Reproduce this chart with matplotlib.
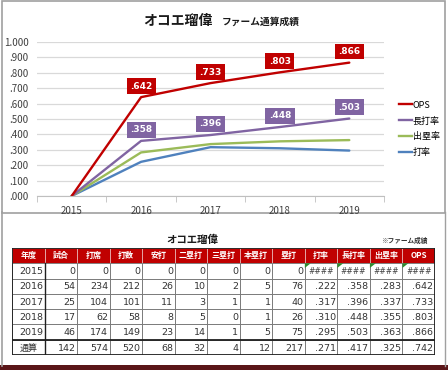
import matplotlib
matplotlib.use("Agg")
import matplotlib.pyplot as plt
from matplotlib.patches import Rectangle, Polygon
from matplotlib.lines import Line2D

plt.rcParams['font.family'] = ['Noto Sans CJK JP', 'DejaVu Sans']

# ---- data ----
years = ['2015', '2016', '2017', '2018', '2019']
ops = [0.0, 0.642, 0.733, 0.803, 0.866]
slg = [0.0, 0.358, 0.396, 0.448, 0.503]
obp = [0.0, 0.283, 0.337, 0.355, 0.363]
avg = [0.0, 0.222, 0.317, 0.310, 0.295]
yticks = [0.0, 0.1, 0.2, 0.3, 0.4, 0.5, 0.6, 0.7, 0.8, 0.9, 1.0]

headers = ['年度', '試合', '打席', '打数', '安打', '二塁打', '三塁打', '本塁打', '塁打',
           '打率', '長打率', '出塁率', 'OPS']
row_labels = ['2015', '2016', '2017', '2018', '2019', '通算']
games = [0, 54, 25, 17, 46, 142]
pa = [0, 234, 104, 62, 174, 574]
ab = [0, 212, 101, 58, 149, 520]
hits = [0, 26, 11, 8, 23, 68]
doubles = [0, 10, 3, 5, 14, 32]
triples = [0, 2, 1, 0, 1, 4]
hr = [0, 5, 1, 1, 5, 12]
tb = [0, 76, 40, 26, 75, 217]
avg_t = ['####', '.222', '.317', '.310', '.295', '.271']
slg_t = ['####', '.358', '.396', '.448', '.503', '.417']
obp_t = ['####', '.283', '.337', '.355', '.363', '.325']
ops_t = ['####', '.642', '.733', '.803', '.866', '.742']

W, H = 448, 370
fig = plt.figure(figsize=(W / 100, H / 100), dpi=100)
fig.patch.set_facecolor('white')

def px(x0, y0, x1, y1):
    return [x0 / W, 1 - y1 / H, (x1 - x0) / W, (y1 - y0) / H]

# ---- decorative frame ----
bg = fig.add_axes([0, 0, 1, 1])
bg.set_xlim(0, W); bg.set_ylim(H, 0); bg.axis('off')
bg.add_patch(Rectangle((2, 0.5), 443, 212, fill=False, ec='#a0a0a0', lw=1.2))
bg.plot([2, 2], [212, 366], color='#a0a0a0', lw=1.2)
bg.plot([445, 445], [212, 366], color='#a0a0a0', lw=1.0)
bg.add_patch(Rectangle((0, 365), W, 5, color='#5a1518', lw=0))

# ---- chart ----
ax = fig.add_axes(px(37, 42, 384, 196))
x = list(range(len(years)))
series = [('OPS', ops, '#c00000'), ('長打率', slg, '#8064a2'),
          ('出塁率', obp, '#9bbb59'), ('打率', avg, '#4f81bd')]
for name, vals, col in series[::-1]:
    ax.plot(x, vals, color=col, lw=1.7, solid_capstyle='round', label=name)
for name, vals, col in series[:2]:
    for xi, v in zip(x[1:], vals[1:]):
        ax.annotate(('%.3f' % v)[1:], (xi, v), xytext=(0, 8), textcoords='offset points',
                    ha='center', va='center', color='white', fontsize=6.5, fontweight='bold',
                    family='DejaVu Sans',
                    bbox=dict(boxstyle='square,pad=0.38', fc=col, ec='none'))
ax.set_xlim(-0.5, 4.5)
ax.set_ylim(0, 1.0)
ax.set_yticks(yticks)
ax.set_yticklabels([('%.3f' % v) if v >= 1 else ('%.3f' % v)[1:] for v in yticks])
ax.set_xticks(x)
ax.set_xticklabels(years)
ax.set_xticks([i - 0.5 for i in range(6)], minor=True)
ax.tick_params(axis='x', which='major', length=0, pad=7, labelsize=7, colors='#404040')
ax.tick_params(axis='x', which='minor', length=4, color='#bfbfbf')
ax.tick_params(axis='y', length=0, pad=6, labelsize=7, colors='#404040')
ax.grid(axis='y', color='#d9d9d9', lw=0.9)
ax.set_axisbelow(True)
for s in ['top', 'right', 'left']:
    ax.spines[s].set_visible(False)
ax.spines['bottom'].set_color('#bfbfbf')
ax.set_facecolor('none')

handles = [Line2D([0], [0], color=c, lw=1.7) for _, _, c in series]
fig.legend(handles, [n for n, _, _ in series], loc='upper left',
           bbox_to_anchor=(394 / W, 1 - 96 / H), frameon=False, fontsize=6.5,
           handlelength=1.5, handletextpad=0.1, labelspacing=0.75, borderpad=0)

fig.text(178 / W, 1 - 21 / H, 'オコエ瑠偉', ha='center', va='center',
         fontsize=10, fontweight='bold', color='#1a1a1a')
fig.text(261 / W, 1 - 22 / H, 'ファーム通算成績', ha='center', va='center',
         fontsize=7, fontweight='bold', color='#1a1a1a')

# ---- table ----
fig.text(192 / W, 1 - 240 / H, 'オコエ瑠偉', ha='center', va='center',
         fontsize=7.5, fontweight='bold', color='#1a1a1a')
fig.text(404 / W, 1 - 240 / H, '※ファーム成績', ha='center', va='center',
         fontsize=4.8, fontweight='bold', color='#333333')

cols = [row_labels, games, pa, ab, hits, doubles, triples, hr, tb, avg_t, slg_t, obp_t, ops_t]
nc, nr = len(headers), len(row_labels)
tx = fig.add_axes(px(12, 248, 435, 355))
tx.set_xlim(0, nc); tx.set_ylim(nr + 1, 0); tx.axis('off')
# header
for j, h in enumerate(headers):
    tx.add_patch(Rectangle((j, 0), 1, 1, fc='#c00000', ec='#e8b0b0', lw=0.6))
    tx.text(j + 0.5, 0.52, h, ha='center', va='center', color='white',
            fontsize=5.8, fontweight='bold')
for i in range(nr):
    for j in range(nc):
        tx.add_patch(Rectangle((j, i + 1), 1, 1, fc='white', ec='#707070', lw=0.6))
        v = cols[j][i]
        s = str(v)
        if s == '####':
            tx.text(j + 0.5, i + 1.55, s, ha='center', va='center', fontsize=5.5,
                    color='#404040', style='italic', family='DejaVu Sans')
            tx.add_patch(Polygon([(j, i + 1), (j + 0.18, i + 1), (j, i + 1.3)],
                                 closed=True, fc='#2e8b2e', ec='none'))
        elif j == 0 and i == nr - 1:
            tx.text(j + 0.5, i + 1.55, s, ha='center', va='center', fontsize=6.5,
                    color='#333333')
        else:
            tx.text(j + 0.95, i + 1.55, s, ha='right', va='center', fontsize=6.8,
                    color='#333333', family='DejaVu Sans')
tx.plot([0, nc], [nr, nr], color='#202020', lw=1.3)
tx.add_patch(Rectangle((0, 0), nc, nr + 1, fill=False, ec='#202020', lw=1.3))
tx.plot([1, 1], [1, nr + 1], color='#202020', lw=1.0)

fig.savefig('out.png', dpi=100, facecolor='white')
